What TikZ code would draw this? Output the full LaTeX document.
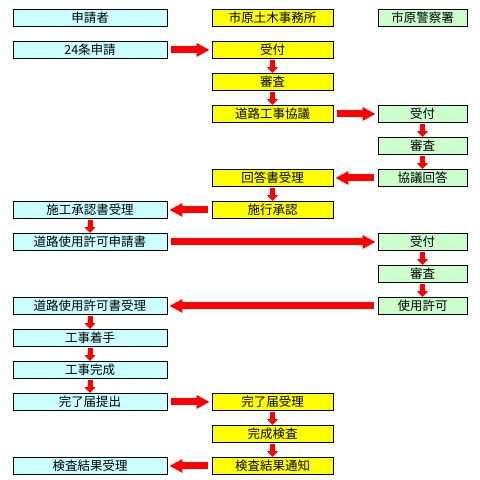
\documentclass[tikz,border=0pt]{standalone}
\usepackage{fontspec}
\newfontfamily\jp{Noto Sans CJK JP}
\usetikzlibrary{arrows.meta}
\definecolor{cyanbox}{HTML}{CCFFFF}
\definecolor{yelbox}{HTML}{FFFF00}
\definecolor{grnbox}{HTML}{CCFFCC}
\definecolor{arr}{HTML}{FF0000}
\begin{document}
\begin{tikzpicture}[x=1pt,y=-1pt,
  box/.style={draw=black, line width=0.9pt, minimum height=17pt, inner sep=0pt, font=\jp\fontsize{12.5}{13}\selectfont, anchor=north},
  lbox/.style={box, fill=cyanbox, minimum width=154pt},
  mbox/.style={box, fill=yelbox, minimum width=121pt},
  rbox/.style={box, fill=grnbox, minimum width=89pt},
  harr/.style={draw=arr, line width=7pt, -{Triangle[width=13pt,length=13pt]}, shorten <=4pt, shorten >=2pt},
  varr/.style={draw=arr, line width=5pt, -{Triangle[width=11pt,length=6pt]}, shorten <=1pt, shorten >=0pt}
]
\useasboundingbox (0,0) rectangle (480,480);
% left column
\node[lbox] (L1) at (90,9) {申請者};
\node[lbox] (L2) at (90,41) {24条申請};
\node[lbox] (L7) at (90,201) {施工承認書受理};
\node[lbox] (L8) at (90,233) {道路使用許可申請書};
\node[lbox] (L10) at (90,297) {道路使用許可書受理};
\node[lbox] (L11) at (90,329) {工事着手};
\node[lbox] (L12) at (90,361) {工事完成};
\node[lbox] (L13) at (90,393) {完了届提出};
\node[lbox] (L15) at (90,457) {検査結果受理};
% middle column
\node[mbox] (M1) at (272.5,9) {市原土木事務所};
\node[mbox] (M2) at (272.5,41) {受付};
\node[mbox] (M3) at (272.5,73) {審査};
\node[mbox] (M4) at (272.5,105) {道路工事協議};
\node[mbox] (M6) at (272.5,169) {回答書受理};
\node[mbox] (M7) at (272.5,201) {施行承認};
\node[mbox] (M13) at (272.5,393) {完了届受理};
\node[mbox] (M14) at (272.5,425) {完成検査};
\node[mbox] (M15) at (272.5,457) {検査結果通知};
% right column
\node[rbox] (R1) at (422.5,9) {市原警察署};
\node[rbox] (R4) at (422.5,105) {受付};
\node[rbox] (R5) at (422.5,137) {審査};
\node[rbox] (R6) at (422.5,169) {協議回答};
\node[rbox] (R8) at (422.5,233) {受付};
\node[rbox] (R9) at (422.5,265) {審査};
\node[rbox] (R10) at (422.5,297) {使用許可};
% horizontal arrows
\draw[harr] (L2) -- (M2);
\draw[harr] (M4) -- (R4);
\draw[harr] (R6) -- (M6);
\draw[harr] (M7) -- (L7);
\draw[harr] (L8) -- (R8);
\draw[harr] (R10) -- (L10);
\draw[harr] (L13) -- (M13);
\draw[harr] (M15) -- (L15);
% vertical arrows
\draw[varr] (M2) -- (M3);
\draw[varr] (M3) -- (M4);
\draw[varr] (R4) -- (R5);
\draw[varr] (R5) -- (R6);
\draw[varr] (M6) -- (M7);
\draw[varr] (L7) -- (L8);
\draw[varr] (R8) -- (R9);
\draw[varr] (R9) -- (R10);
\draw[varr] (L10) -- (L11);
\draw[varr] (L11) -- (L12);
\draw[varr] (L12) -- (L13);
\draw[varr] (M13) -- (M14);
\draw[varr] (M14) -- (M15);
\end{tikzpicture}
\end{document}
